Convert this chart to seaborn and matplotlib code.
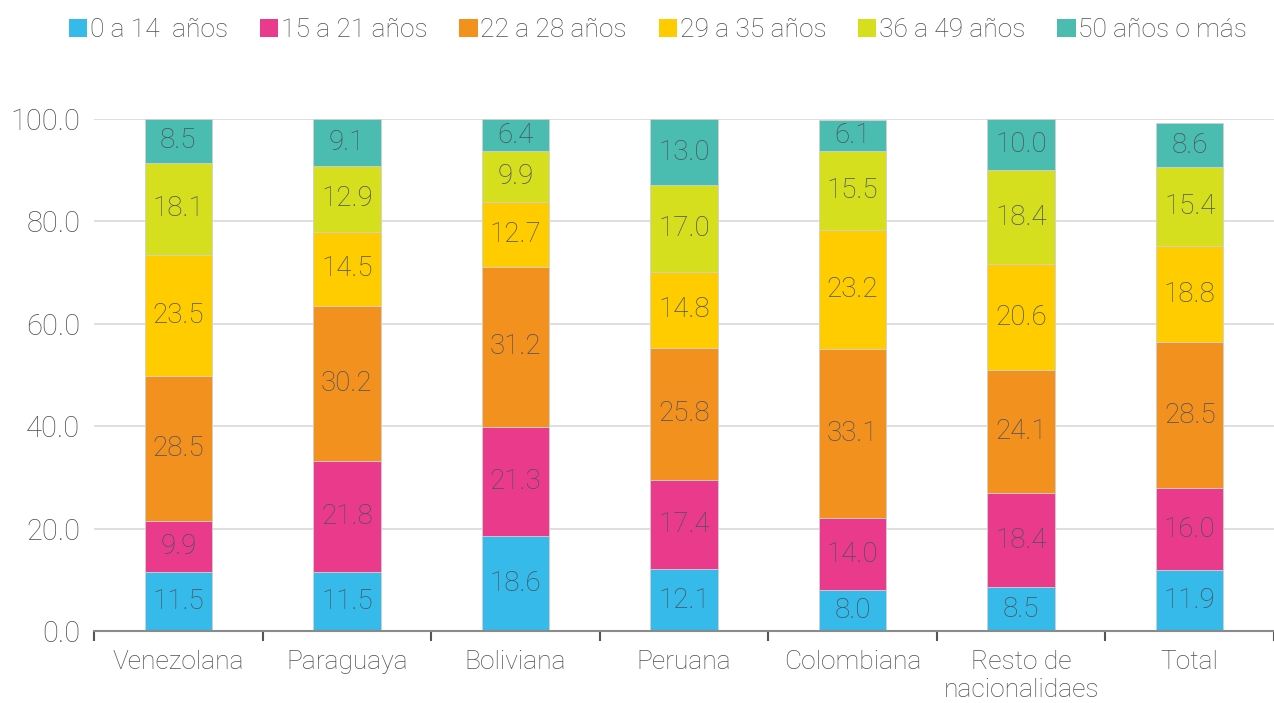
import matplotlib
matplotlib.use("Agg")
import matplotlib.pyplot as plt
import seaborn as sns
import numpy as np
from matplotlib.patches import Patch

categories = ["Venezolana", "Paraguaya", "Boliviana", "Peruana", "Colombiana",
              "Resto de\nnacionalidaes", "Total"]
series_names = ["0 a 14  años", "15 a 21 años", "22 a 28 años", "29 a 35 años",
                "36 a 49 años", "50 años o más"]
s0_14 = [11.5, 11.5, 18.6, 12.1, 8.0, 8.5, 11.9]
s15_21 = [9.9, 21.8, 21.3, 17.4, 14.0, 18.4, 16.0]
s22_28 = [28.5, 30.2, 31.2, 25.8, 33.1, 24.1, 28.5]
s29_35 = [23.5, 14.5, 12.7, 14.8, 23.2, 20.6, 18.8]
s36_49 = [18.1, 12.9, 9.9, 17.0, 15.5, 18.4, 15.4]
s50 = [8.5, 9.1, 6.4, 13.0, 6.1, 10.0, 8.6]
yticks = [0, 20, 40, 60, 80, 100]

colors = ["#35BAEA", "#EA3A8C", "#F3911F", "#FFCC00", "#D5DF1E", "#4BBDB0"]

sns.set_theme(style="white")
plt.rcParams["font.family"] = ["Roboto", "DejaVu Sans"]
plt.rcParams["font.weight"] = "light"

fig = plt.figure(figsize=(12.74, 7.03), dpi=100)
ax = fig.add_axes([0.0738, 0.1024, 0.9262, 0.7283])

series = [s0_14, s15_21, s22_28, s29_35, s36_49, s50]
bottom = np.zeros(len(categories))
for name, vals, col in zip(series_names, series, colors):
    sns.barplot(x=categories, y=vals, bottom=bottom, color=col, width=0.4,
                saturation=1, edgecolor="#d0d0d0", linewidth=0.6, ax=ax, zorder=3)
    bottom = bottom + np.array(vals)

for cont in ax.containers:
    ax.bar_label(cont, fmt="%.1f", label_type="center", color="#4a525c",
                 fontsize=20, fontweight="light")

ax.set_xlim(-0.5, len(categories) - 0.5)
ax.set_ylim(0, 100)
ax.set_yticks(yticks)
ax.set_yticklabels([f"{v:.1f}" for v in yticks])
ax.yaxis.grid(True, color="#d9d9d9", linewidth=1.2, zorder=0)
ax.set_axisbelow(True)
for s in ["top", "right", "left"]:
    ax.spines[s].set_visible(False)
ax.spines["bottom"].set_color("#8a8a8a")
ax.spines["bottom"].set_linewidth(1.5)
ax.spines["bottom"].set_zorder(4)
ax.set_xticks(np.arange(len(categories)))
ax.set_xticklabels(categories)
ax.tick_params(axis="x", length=0, pad=14, labelsize=19, labelcolor="#505050")
ax.tick_params(axis="y", length=0, pad=10, labelsize=21, labelcolor="#505050")
ax.set_xticks(np.arange(len(categories) + 1) - 0.5, minor=True)
ax.tick_params(axis="x", which="minor", length=7, width=1.5, color="#555555",
               direction="out", bottom=True)
ax.set_xlabel("")
ax.set_ylabel("")

handles = [Patch(facecolor=c, edgecolor="none") for c in colors]
fig.legend(handles, series_names, loc="upper center", bbox_to_anchor=(0.5165, 1.0),
           ncol=6, frameon=False, fontsize=19, handlelength=0.7, handleheight=0.7,
           handletextpad=0.1, columnspacing=1.2, labelcolor="#505050",
           borderaxespad=0.3)

fig.savefig("out.png", dpi=100)
